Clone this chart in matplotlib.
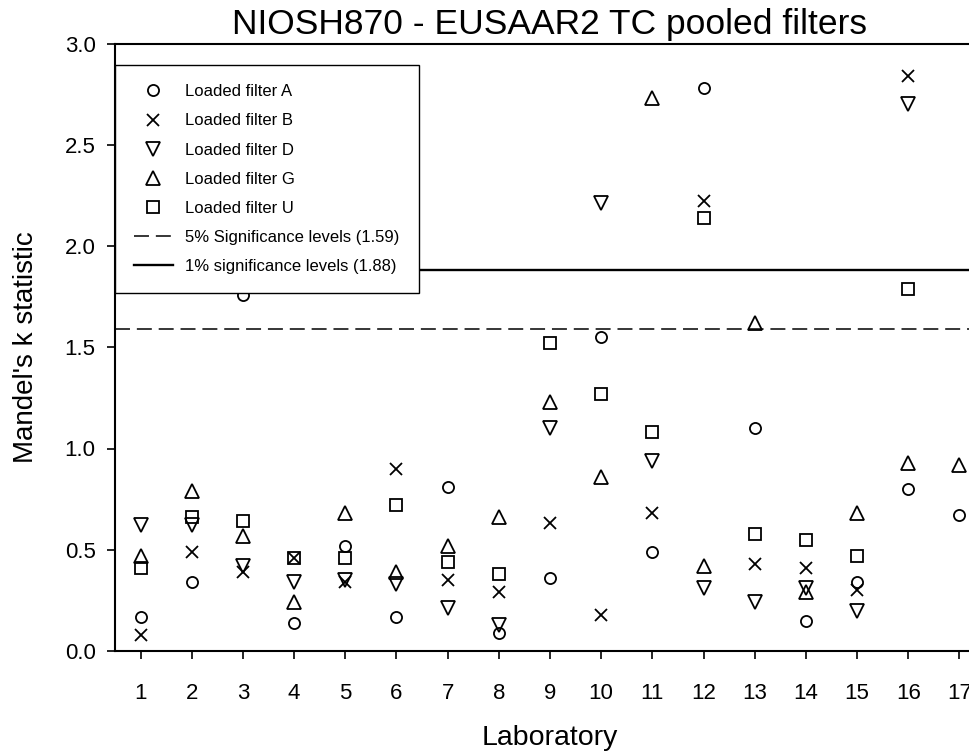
import numpy as np
import matplotlib
matplotlib.use('Agg')
import matplotlib.pyplot as plt

plt.rcParams['font.family'] = ['Liberation Sans', 'DejaVu Sans']

labs = np.arange(1, 18)
nan = np.nan
filter_a = [0.17, 0.34, 1.76, 0.14, 0.52, 0.17, 0.81, 0.09, 0.36, 1.55, 0.49, 2.78, 1.10, 0.15, 0.34, 0.80, 0.67]
filter_b = [0.08, 0.49, 0.39, 0.46, 0.34, 0.90, 0.35, 0.29, 0.63, 0.18, 0.68, 2.22, 0.43, 0.41, 0.30, 2.84, nan]
filter_d = [0.62, 0.62, 0.42, 0.34, 0.35, 0.33, 0.21, 0.13, 1.10, 2.21, 0.94, 0.31, 0.24, 0.31, 0.20, 2.70, nan]
filter_g = [0.47, 0.79, 0.57, 0.24, 0.68, 0.39, 0.52, 0.66, 1.23, 0.86, 2.73, 0.42, 1.62, 0.29, 0.68, 0.93, 0.92]
filter_u = [0.41, 0.66, 0.64, 0.46, 0.46, 0.72, 0.44, 0.38, 1.52, 1.27, 1.08, 2.14, 0.58, 0.55, 0.47, 1.79, nan]
sig5 = 1.59
sig1 = 1.88

fig = plt.figure(figsize=(9.69, 7.55), dpi=100)
ax = fig.add_axes([115 / 969, 104 / 755, 870 / 969, 607.5 / 755])

# open black markers, one style per filter
mk = dict(linestyle='none', markerfacecolor='none', markeredgecolor='black',
          markeredgewidth=1.3)
ax.plot(labs, filter_a, marker='o', markersize=8, label='Loaded filter A', **mk)
ax.plot(labs, filter_b, marker='x', markersize=8.5, label='Loaded filter B', **mk)
ax.plot(labs, filter_d, marker='v', markersize=10, label='Loaded filter D', **mk)
ax.plot(labs, filter_g, marker='^', markersize=10, label='Loaded filter G', **mk)
ax.plot(labs, filter_u, marker='s', markersize=8.5, label='Loaded filter U', **mk)

ax.axhline(sig5, color='black', linewidth=1.1, linestyle=(0, (9.8, 4.5)),
           label='5% Significance levels (1.59)')
ax.axhline(sig1, color='black', linewidth=1.7,
           label='1% significance levels (1.88)')

ax.set_xlim(0.5, 17.5)
ax.set_ylim(0, 3.0)
ax.set_xticks(labs)
ax.set_yticks(np.arange(0, 3.01, 0.5))
ax.set_yticklabels(['%.1f' % v for v in np.arange(0, 3.01, 0.5)])
ax.tick_params(axis='both', direction='out', length=6, width=1.2, labelsize=16)
ax.tick_params(axis='x', pad=17)
ax.tick_params(axis='y', pad=8)
for s in ['left', 'bottom', 'top']:
    ax.spines[s].set_linewidth(1.5)
ax.spines['right'].set_visible(False)

ax.set_title('NIOSH870 - EUSAAR2 TC pooled filters', fontsize=25.5, pad=7)
ax.set_xlabel('Laboratory', fontsize=20.5)
ax.xaxis.set_label_coords(0.5, -0.122)
ax.set_ylabel("Mandel's k statistic", fontsize=20)
ax.yaxis.set_label_coords(-0.087, 0.5)

leg = ax.legend(loc='upper left', bbox_to_anchor=(0, 0.9646), borderaxespad=0,
                fontsize=12, frameon=True, fancybox=False, framealpha=1,
                edgecolor='black', borderpad=1.15, labelspacing=0.85,
                handlelength=2.3, handletextpad=0.75)
leg.get_frame().set_linewidth(1.0)
leg.set_zorder(5)

fig.savefig('out.png', dpi=100)
